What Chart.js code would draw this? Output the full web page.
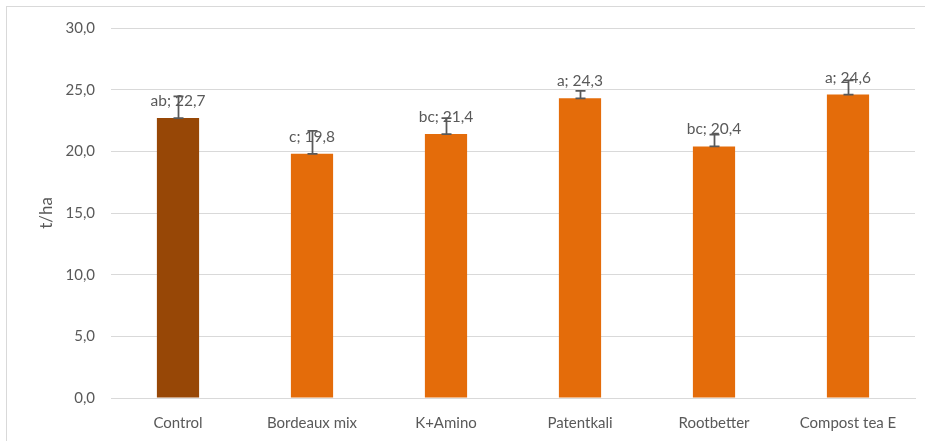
<!DOCTYPE html>
<html>
<head>
<meta charset="utf-8">
<script src="https://cdn.jsdelivr.net/npm/chart.js@4/dist/chart.umd.min.js"></script>
<style>
  html, body { margin: 0; padding: 0; background: #ffffff; }
  #wrap { position: relative; width: 925px; height: 441px; }
</style>
</head>
<body>
<div id="wrap"><canvas id="c" width="925" height="441"></canvas></div>
<script>
// Yield per treatment (t/ha), significance letters and upper error bars
const categories = ['Control', 'Bordeaux mix', 'K+Amino', 'Patentkali', 'Rootbetter', 'Compost tea E'];
const yieldValues = [22.7, 19.8, 21.4, 24.3, 20.4, 24.6];
const letters = ['ab', 'c', 'bc', 'a', 'bc', 'a'];
const errorPlus = [1.75, 1.85, 1.3, 0.6, 0.95, 1.15];
const yTicks = [0, 5, 10, 15, 20, 25, 30];

const FONT = 'Lato, "Open Sans", sans-serif';
const fmt = v => v.toFixed(1).replace('.', ',');

// thin outer frame around the chart
const framePlugin = {
  id: 'frame',
  beforeDraw(chart) {
    const ctx = chart.ctx;
    ctx.save();
    ctx.strokeStyle = '#d9d9d9';
    ctx.lineWidth = 1;
    ctx.strokeRect(6.5, 6.5, 1200, 1200);
    ctx.restore();
  }
};

// error bars (plus direction) and value labels
const annotatePlugin = {
  id: 'annotate',
  afterDatasetsDraw(chart) {
    const ctx = chart.ctx;
    const meta = chart.getDatasetMeta(0);
    const y = chart.scales.y;
    ctx.save();
    meta.data.forEach((bar, i) => {
      const x = Math.round(bar.x) + 0.5;
      const y0 = y.getPixelForValue(yieldValues[i]);
      const y1 = y.getPixelForValue(yieldValues[i] + errorPlus[i]);
      ctx.strokeStyle = '#595959';
      ctx.lineWidth = 1.75;
      ctx.beginPath();
      ctx.moveTo(x, y0); ctx.lineTo(x, y1);
      ctx.moveTo(x - 5, y1); ctx.lineTo(x + 5, y1);
      ctx.moveTo(x - 5, y0); ctx.lineTo(x + 5, y0);
      ctx.stroke();
    });
    ctx.fillStyle = '#595959';
    ctx.font = '15.5px ' + FONT;
    ctx.textAlign = 'center';
    ctx.textBaseline = 'alphabetic';
    meta.data.forEach((bar, i) => {
      const yTop = y.getPixelForValue(yieldValues[i]);
      ctx.fillText(letters[i] + '; ' + fmt(yieldValues[i]), bar.x, yTop - 12);
    });
    ctx.restore();
  }
};

new Chart(document.getElementById('c'), {
  type: 'bar',
  data: {
    labels: categories,
    datasets: [{
      data: yieldValues,
      backgroundColor: yieldValues.map((_, i) => i === 0 ? '#974706' : '#E46C0A'),
      borderWidth: 0,
      categoryPercentage: 1,
      barPercentage: 0.315
    }]
  },
  options: {
    responsive: false,
    animation: false,
    devicePixelRatio: 1,
    layout: { padding: { left: 0, top: 28, right: 10, bottom: 0 } },
    plugins: { legend: { display: false }, tooltip: { enabled: false } },
    scales: {
      x: {
        grid: { display: false },
        border: { display: true, color: '#d9d9d9', width: 1 },
        ticks: { color: '#595959', font: { family: FONT, size: 15 }, padding: 8, maxRotation: 0 },
        afterFit(scale) { scale.height = 43; }
      },
      y: {
        min: 0,
        max: 30,
        afterBuildTicks(scale) { scale.ticks = yTicks.map(v => ({ value: v })); },
        grid: { color: '#d9d9d9', lineWidth: 1, drawTicks: false },
        border: { display: false },
        ticks: {
          color: '#595959',
          font: { family: FONT, size: 15 },
          padding: 16,
          callback: v => fmt(v)
        },
        title: {
          display: true,
          text: 't/ha',
          color: '#595959',
          font: { family: FONT, size: 17 },
          padding: { top: 36, bottom: 0 }
        },
        afterFit(scale) { scale.width = 111; }
      }
    }
  },
  plugins: [framePlugin, annotatePlugin]
});
</script>
</body>
</html>
